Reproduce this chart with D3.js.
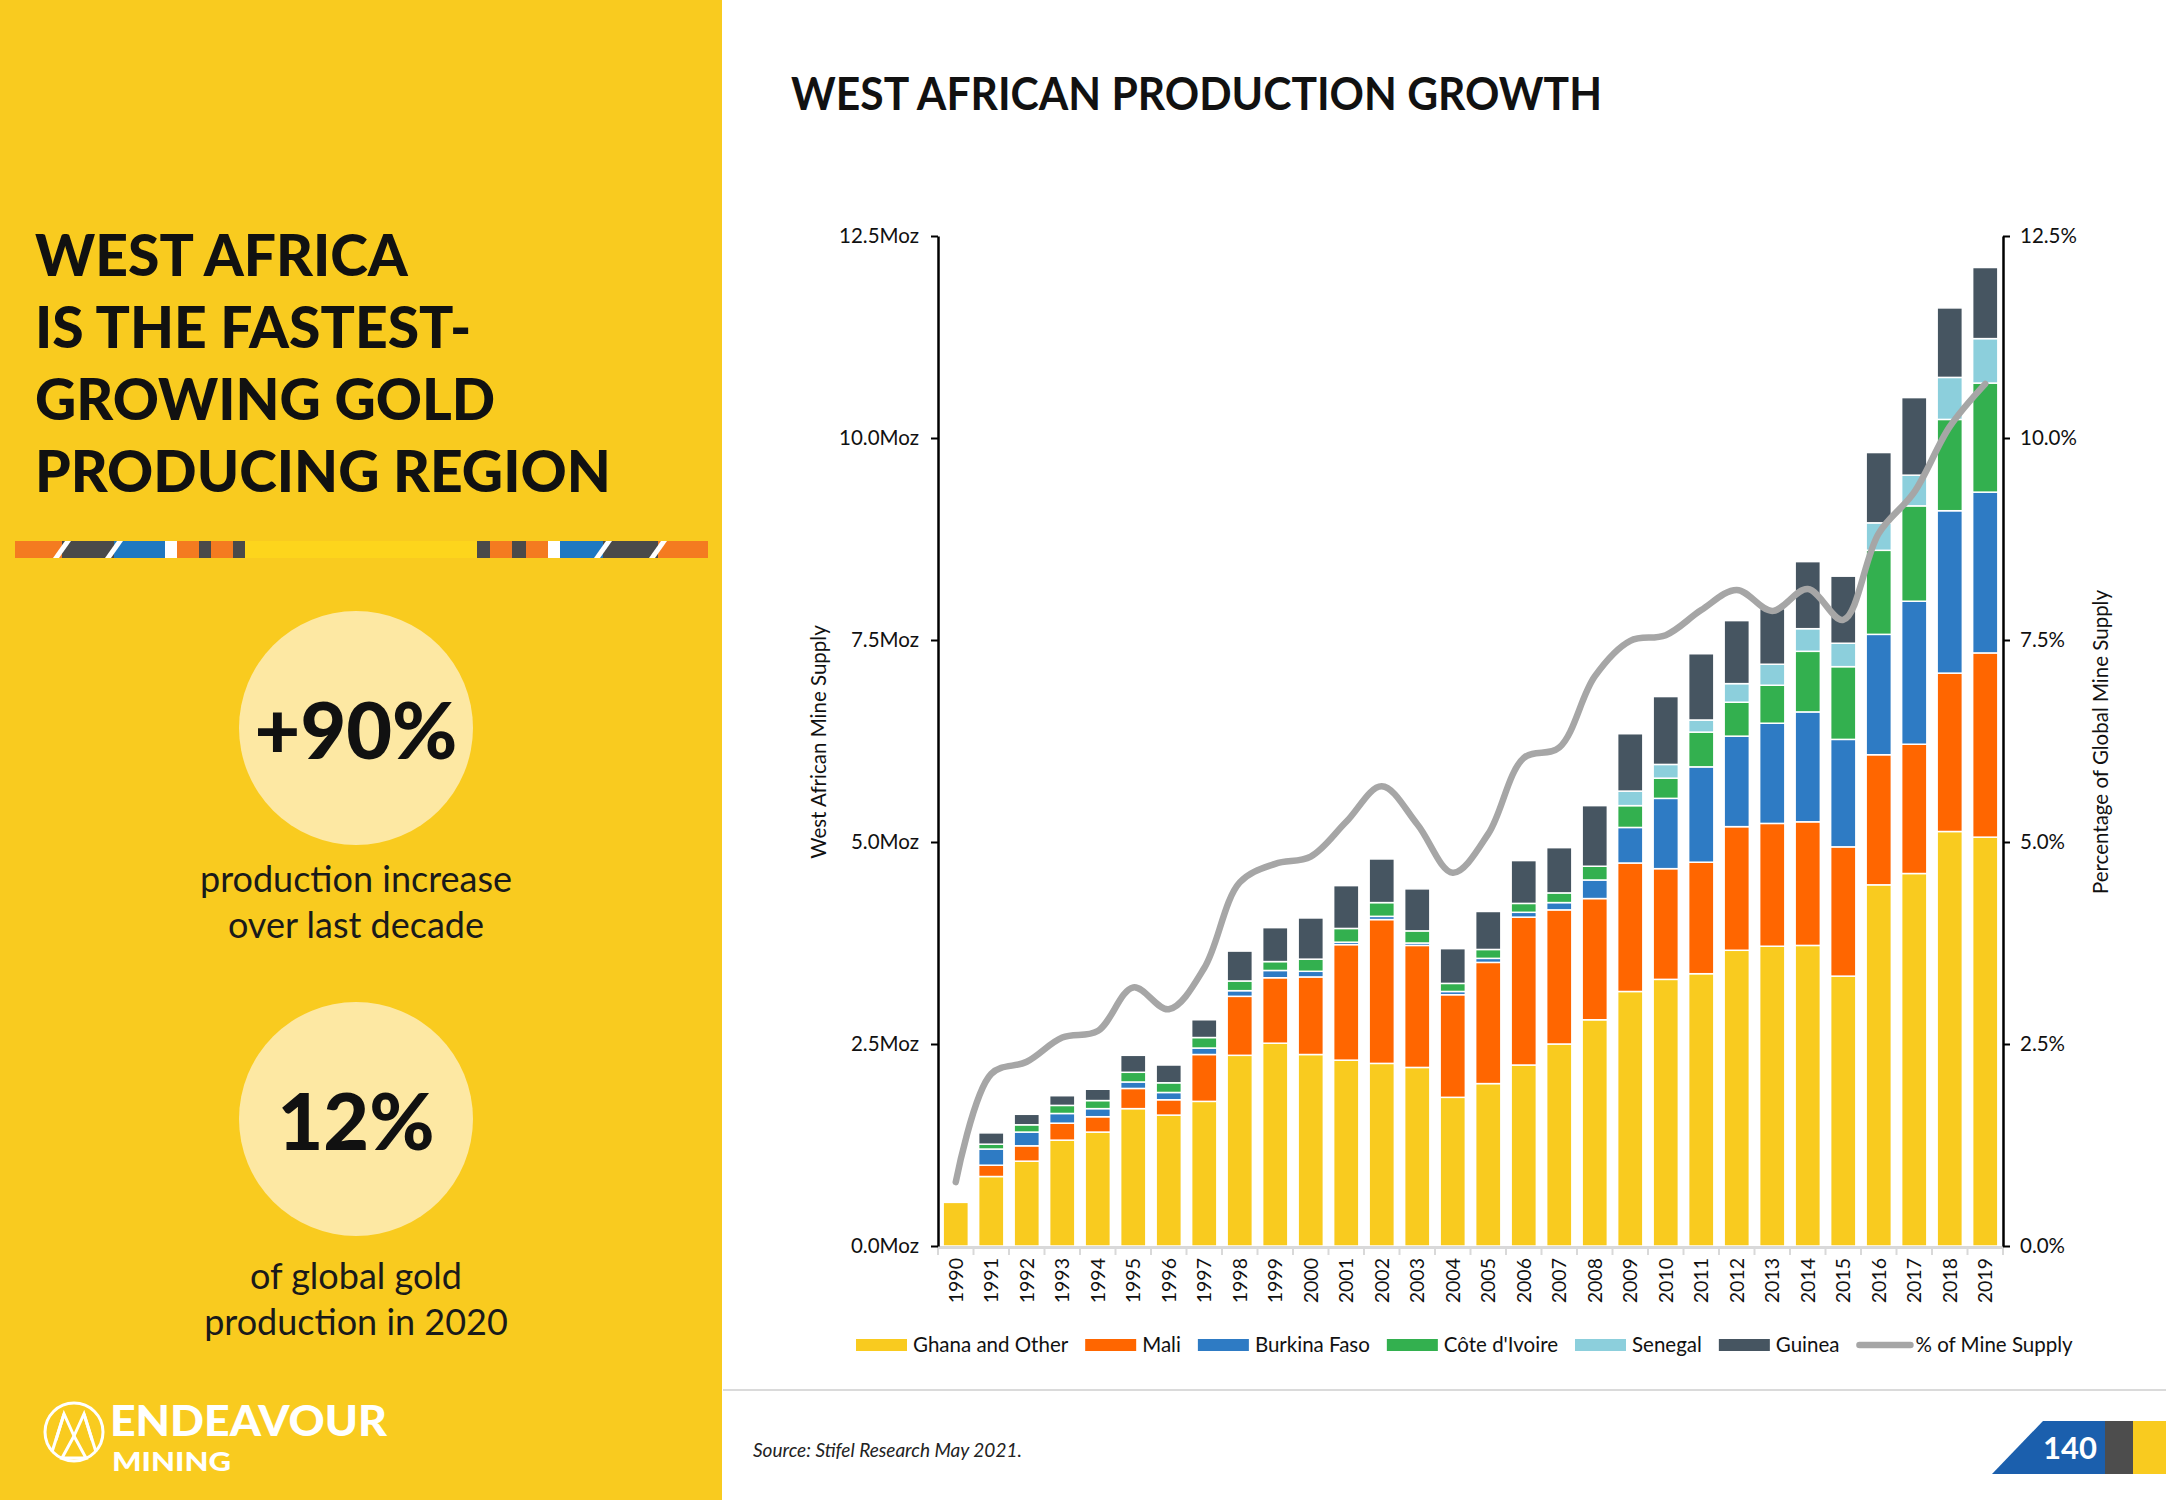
<!DOCTYPE html>
<html>
<head>
<meta charset="utf-8">
<script src="https://cdn.jsdelivr.net/npm/d3@7"></script>
<style>
  html, body { margin: 0; padding: 0; background: #fff; }
  svg { display: block; }
  text { font-family: Lato, "Open Sans", sans-serif; }
</style>
</head>
<body>
<svg id="c" width="2166" height="1500"></svg>
<script>
// ---------------- DATA ----------------
const years = ["1990","1991","1992","1993","1994","1995","1996","1997","1998","1999",
  "2000","2001","2002","2003","2004","2005","2006","2007","2008","2009",
  "2010","2011","2012","2013","2014","2015","2016","2017","2018","2019"];
const ghana   = [0.54,0.86,1.05,1.31,1.41,1.70,1.62,1.79,2.36,2.51,2.37,2.30,2.26,2.21,1.84,2.01,2.24,2.50,2.80,3.15,3.30,3.37,3.66,3.71,3.72,3.34,4.47,4.61,5.13,5.06];
const mali    = [0,0.14,0.19,0.21,0.19,0.25,0.19,0.58,0.73,0.81,0.96,1.43,1.78,1.51,1.27,1.50,1.83,1.66,1.50,1.59,1.37,1.38,1.53,1.52,1.53,1.60,1.61,1.60,1.96,2.28];
const burkina = [0,0.20,0.17,0.12,0.10,0.08,0.09,0.08,0.07,0.09,0.07,0.03,0.04,0.03,0.04,0.05,0.06,0.09,0.23,0.44,0.87,1.18,1.12,1.24,1.36,1.33,1.49,1.77,2.01,1.99];
const cote    = [0,0.06,0.09,0.10,0.10,0.12,0.12,0.13,0.12,0.11,0.15,0.17,0.17,0.15,0.10,0.11,0.11,0.12,0.17,0.27,0.25,0.43,0.42,0.47,0.75,0.90,1.04,1.18,1.13,1.35];
const senegal = [0,0,0,0,0,0,0,0,0,0,0,0,0,0,0,0,0,0,0,0.18,0.17,0.15,0.23,0.26,0.28,0.29,0.34,0.38,0.52,0.55];
const guinea  = [0,0.14,0.13,0.12,0.14,0.21,0.22,0.22,0.37,0.42,0.51,0.53,0.54,0.52,0.43,0.47,0.53,0.56,0.75,0.71,0.84,0.82,0.78,0.69,0.83,0.83,0.87,0.96,0.86,0.88];
const pctMine = [0.79,2.13,2.28,2.58,2.66,3.20,2.93,3.44,4.50,4.73,4.82,5.25,5.69,5.22,4.62,5.10,6.04,6.17,7.05,7.49,7.56,7.87,8.12,7.86,8.13,7.75,8.82,9.33,10.14,10.67];

const seriesNames = ["Ghana and Other","Mali","Burkina Faso","Côte d'Ivoire","Senegal","Guinea"];
const seriesColors = ["#F9CB1F","#FF6600","#2E7BC4","#33B04F","#8CCFDC","#465561"];
const lineName = "% of Mine Supply";
const lineColor = "#A6A6A6";
const leftTicks = [0,2.5,5,7.5,10,12.5];
const leftTickLabels = ["0.0Moz","2.5Moz","5.0Moz","7.5Moz","10.0Moz","12.5Moz"];
const rightTickLabels = ["0.0%","2.5%","5.0%","7.5%","10.0%","12.5%"];

const title = "WEST AFRICAN PRODUCTION GROWTH";
const headline = ["WEST AFRICA","IS THE FASTEST-","GROWING GOLD","PRODUCING REGION"];
const stat1 = "+90%", stat1Text = ["production increase","over last decade"];
const stat2 = "12%", stat2Text = ["of global gold","production in 2020"];
const sourceText = "Source: Stifel Research May 2021.";
const pageNum = "140";

// ---------------- PAGE ----------------
const svg = d3.select("#c");
const panelYellow = "#F9CB1F";

// left panel
svg.append("rect").attr("x",0).attr("y",0).attr("width",722).attr("height",1500).attr("fill",panelYellow);

const hl = svg.append("g");
headline.forEach((t,i)=>{
  hl.append("text").attr("x",35).attr("y",276+i*72).attr("font-size",57).attr("font-weight",900)
    .attr("fill","#111").text(t);
});

// decorative stripe
const stripeY = 541, stripeH = 17;
const stripe = [
  [15,62,"#F47B20"],[62,114,"#4A4A4A"],[114,165,"#1F78C1"],[165,177,"#FFFFFF"],
  [177,199,"#F47B20"],[199,211,"#4A4A4A"],[211,233,"#F47B20"],[233,245,"#4A4A4A"],
  [245,477,"#FDD51C"],[477,490,"#4A4A4A"],[490,512,"#F47B20"],[512,526,"#4A4A4A"],
  [526,548,"#F47B20"],[548,560,"#FFFFFF"],[560,603,"#1F78C1"],[603,658,"#4A4A4A"],[658,708,"#F47B20"]];
const sg = svg.append("g");
stripe.forEach(s=> sg.append("rect").attr("x",s[0]).attr("y",stripeY).attr("width",s[1]-s[0]).attr("height",stripeH).attr("fill",s[2]));
[62,114,603,658].forEach(c=>{
  sg.append("polygon").attr("fill","#fff")
    .attr("points",`${c-9},${stripeY+stripeH} ${c-3},${stripeY+stripeH} ${c+9},${stripeY} ${c+3},${stripeY}`);
});

// stat circles
const circFill = "#FDE8A3";
[[728,stat1,stat1Text,892],[1119,stat2,stat2Text,1289]].forEach(([cy,big,lines,by])=>{
  svg.append("circle").attr("cx",356).attr("cy",cy).attr("r",117).attr("fill",circFill);
  svg.append("text").attr("x",356).attr("y",cy+31).attr("text-anchor","middle")
    .attr("font-size",79).attr("font-weight",900).attr("fill","#111").text(big);
  lines.forEach((l,i)=> svg.append("text").attr("x",356).attr("y",by+i*46).attr("text-anchor","middle")
    .attr("font-size",36).attr("fill","#1a1a1a").text(l));
});

// logo
const logo = svg.append("g").attr("stroke","#fff").attr("fill","none").attr("stroke-width",3);
logo.append("circle").attr("cx",74).attr("cy",1432).attr("r",29);
logo.append("path").attr("d","M52,1452 L64,1414 L74,1436 L84,1414 L96,1452");
logo.append("path").attr("d","M62,1458 L74,1436 L86,1458 Z");
logo.append("path").attr("d","M56,1440 L64,1414 M92,1440 L84,1414");
svg.append("text").attr("font-family","Roboto").attr("font-weight",900).attr("fill","#fff")
  .attr("x",110).attr("y",1436).attr("font-size",42)
  .attr("textLength",277).attr("lengthAdjust","spacingAndGlyphs").text("ENDEAVOUR");
svg.append("text").attr("font-family","Roboto").attr("font-weight",900).attr("fill","#fff")
  .attr("x",112).attr("y",1471).attr("font-size",27)
  .attr("textLength",119).attr("lengthAdjust","spacingAndGlyphs").text("MINING");

// title
svg.append("text").attr("x",791).attr("y",110).attr("font-size",45).attr("font-weight",700)
  .attr("textLength",811).attr("lengthAdjust","spacingAndGlyphs")
  .attr("fill","#111").text(title);

// footer
svg.append("line").attr("x1",723).attr("x2",2166).attr("y1",1390).attr("y2",1390).attr("stroke","#DADADA").attr("stroke-width",2);
svg.append("text").attr("x",753).attr("y",1457).attr("font-size",19).attr("font-style","italic").attr("fill","#222").text(sourceText);
svg.append("polygon").attr("points","1992,1474 2043,1421 2105,1421 2105,1474").attr("fill","#1B5FAD");
svg.append("rect").attr("x",2105).attr("y",1421).attr("width",28).attr("height",53).attr("fill","#4D4D4D");
svg.append("rect").attr("x",2133).attr("y",1421).attr("width",33).attr("height",53).attr("fill",panelYellow);
svg.append("text").attr("x",2070).attr("y",1459).attr("text-anchor","middle").attr("font-size",31).attr("font-weight",700)
  .attr("fill","#fff").text(pageNum);

// ---------------- CHART ----------------
const X0 = 938, X1 = 2003, YT = 236, YB = 1246;
const x = d3.scaleBand().domain(years).range([X0,X1]).paddingInner(0.29).paddingOuter(0.145);
const y = d3.scaleLinear().domain([0,12.5]).range([YB,YT]);
const yR = d3.scaleLinear().domain([0,12.5]).range([YB,YT]);

const table = years.map((yr,i)=>({year:yr, s0:ghana[i], s1:mali[i], s2:burkina[i], s3:cote[i], s4:senegal[i], s5:guinea[i], pct:pctMine[i]}));
const keys = ["s0","s1","s2","s3","s4","s5"];
const stack = d3.stack().keys(keys)(table);

const bars = svg.append("g");
stack.forEach((layer,li)=>{
  bars.append("g").attr("fill",seriesColors[li]).selectAll("rect")
    .data(layer.filter(d=>d[1]-d[0]>0)).join("rect")
    .attr("x",d=>x(d.data.year)).attr("width",x.bandwidth())
    .attr("y",d=>y(d[1])).attr("height",d=>y(d[0])-y(d[1]))
    .attr("stroke","#fff").attr("stroke-width",1.5);
});

// x axis (light grey baseline with category dividers)
const xa = svg.append("g");
xa.append("line").attr("x1",X0).attr("x2",X1).attr("y1",YB+1.5).attr("y2",YB+1.5).attr("stroke","#D9D9D9").attr("stroke-width",3);
const step = x.step();
xa.selectAll("line.div").data(d3.range(years.length+1)).join("line").attr("class","div")
  .attr("x1",i=>X0+i*step).attr("x2",i=>X0+i*step).attr("y1",YB).attr("y2",YB+9)
  .attr("stroke","#D9D9D9").attr("stroke-width",2);
xa.selectAll("text").data(years).join("text")
  .attr("transform",d=>`translate(${x(d)+x.bandwidth()/2},${YB+12}) rotate(-90)`)
  .attr("text-anchor","end").attr("dy","0.35em").attr("font-size",19.5).attr("fill","#111").text(d=>d);

// left axis
const la = svg.append("g").attr("transform",`translate(${X0},0)`)
  .call(d3.axisLeft(y).tickValues(leftTicks).tickSize(7).tickSizeOuter(0).tickFormat((d,i)=>leftTickLabels[i]));
la.select(".domain").attr("stroke","#000").attr("stroke-width",2.5);
la.selectAll(".tick line").attr("stroke","#000").attr("stroke-width",2);
la.selectAll(".tick text").attr("font-family","Lato").attr("font-size",20.5).attr("fill","#111").attr("x",-19);

// right axis
const ra = svg.append("g").attr("transform",`translate(${X1},0)`)
  .call(d3.axisRight(yR).tickValues(leftTicks).tickSize(7).tickSizeOuter(0).tickFormat((d,i)=>rightTickLabels[i]));
ra.select(".domain").attr("stroke","#000").attr("stroke-width",2.5);
ra.selectAll(".tick line").attr("stroke","#000").attr("stroke-width",2);
ra.selectAll(".tick text").attr("font-family","Lato").attr("font-size",20.5).attr("fill","#111").attr("x",17);

// axis titles
svg.append("text").attr("transform",`translate(826,742) rotate(-90)`).attr("text-anchor","middle")
  .attr("font-size",20.5).attr("fill","#111").text("West African Mine Supply");
svg.append("text").attr("transform",`translate(2108,742) rotate(-90)`).attr("text-anchor","middle")
  .attr("font-size",20.5).attr("fill","#111").text("Percentage of Global Mine Supply");

// line
svg.append("path").datum(table)
  .attr("d",d3.line().x(d=>x(d.year)+x.bandwidth()/2).y(d=>yR(d.pct)).curve(d3.curveCatmullRom.alpha(0.5)))
  .attr("fill","none").attr("stroke",lineColor).attr("stroke-width",6.5).attr("stroke-linecap","round").attr("stroke-linejoin","round");

// legend
const lg = svg.append("g");
let lx = 856; const ly = 1345;
const items = seriesNames.map((n,i)=>({n, c:seriesColors[i], line:false})).concat([{n:lineName,c:lineColor,line:true}]);
items.forEach(it=>{
  if (it.line) {
    lg.append("line").attr("x1",lx+3).attr("x2",lx+54).attr("y1",ly).attr("y2",ly).attr("stroke",it.c).attr("stroke-width",6.5).attr("stroke-linecap","round");
    lx += 59;
  } else {
    lg.append("rect").attr("x",lx).attr("y",ly-6).attr("width",51).attr("height",12).attr("fill",it.c);
    lx += 57;
  }
  const t = lg.append("text").attr("x",lx).attr("y",ly).attr("dy","0.35em").attr("font-size",20.5).attr("fill","#111").text(it.n);
  lx += t.node().getComputedTextLength() + 17;
});
</script>
</body>
</html>
